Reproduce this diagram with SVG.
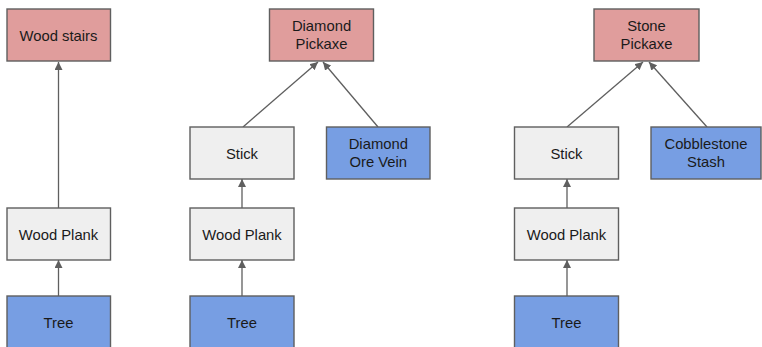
<svg xmlns="http://www.w3.org/2000/svg" width="762" height="347" viewBox="0 0 762 347">
<defs>
<style>
.n rect{stroke:#5f5f5f;stroke-width:1.4}
.red rect{fill:#e09d9c}
.gray rect{fill:#efefef}
.blue rect{fill:#779ee3}
.n text{font-family:"Liberation Sans",Arial,sans-serif;font-size:14.8px;fill:#1a1a1a;text-anchor:middle}
#edges line{stroke:#5f5f5f;stroke-width:1.3;marker-end:url(#ah)}
</style>
<marker id="ah" viewBox="0 0 10 10" refX="10" refY="5" markerWidth="8" markerHeight="8" markerUnits="userSpaceOnUse" orient="auto">
<path d="M0,0 L10,5 L0,10 z" fill="#5f5f5f"/>
</marker>
</defs>
<rect width="762" height="347" fill="#fff"/>
<g id="edges">
<line x1="58.5" y1="208" x2="58.5" y2="62"/>
<line x1="58.5" y1="296" x2="58.5" y2="260"/>
<line x1="242" y1="208" x2="242" y2="179"/>
<line x1="242" y1="296" x2="242" y2="260"/>
<line x1="243" y1="127" x2="318" y2="62"/>
<line x1="378" y1="127" x2="323" y2="62"/>
<line x1="567" y1="208" x2="567" y2="179"/>
<line x1="567" y1="296" x2="567" y2="260"/>
<line x1="567" y1="127" x2="643" y2="62"/>
<line x1="707" y1="127" x2="649" y2="62"/>
</g>
<g id="wood-stairs" class="n red"><rect x="7" y="9" width="103.5" height="52"/><text x="58.5" y="40.5">Wood stairs</text></g>
<g id="wood-plank-1" class="n gray"><rect x="7" y="208" width="103.5" height="52"/><text x="58.5" y="239.5">Wood Plank</text></g>
<g id="tree-1" class="n blue"><rect x="7" y="296" width="103.5" height="54"/><text x="58.5" y="327.5">Tree</text></g>
<g id="diamond-pickaxe" class="n red"><rect x="269.5" y="9" width="104" height="52"/><text x="321.5" y="31">Diamond</text><text x="321.5" y="49">Pickaxe</text></g>
<g id="stick-1" class="n gray"><rect x="190" y="127" width="104" height="52"/><text x="242" y="158.5">Stick</text></g>
<g id="diamond-ore-vein" class="n blue"><rect x="326.5" y="127" width="103.5" height="52"/><text x="378.3" y="149">Diamond</text><text x="378.3" y="167">Ore Vein</text></g>
<g id="wood-plank-2" class="n gray"><rect x="190" y="208" width="104" height="52"/><text x="242" y="239.5">Wood Plank</text></g>
<g id="tree-2" class="n blue"><rect x="190" y="296" width="104" height="54"/><text x="242" y="327.5">Tree</text></g>
<g id="stone-pickaxe" class="n red"><rect x="594" y="9" width="105" height="52"/><text x="646.5" y="31">Stone</text><text x="646.5" y="49">Pickaxe</text></g>
<g id="stick-2" class="n gray"><rect x="514.5" y="127" width="104" height="52"/><text x="566.5" y="158.5">Stick</text></g>
<g id="cobblestone-stash" class="n blue"><rect x="651" y="127" width="110" height="52"/><text x="706" y="149">Cobblestone</text><text x="706" y="167">Stash</text></g>
<g id="wood-plank-3" class="n gray"><rect x="514.5" y="208" width="104" height="52"/><text x="566.5" y="239.5">Wood Plank</text></g>
<g id="tree-3" class="n blue"><rect x="514.5" y="296" width="104" height="54"/><text x="566.5" y="327.5">Tree</text></g>
</svg>
